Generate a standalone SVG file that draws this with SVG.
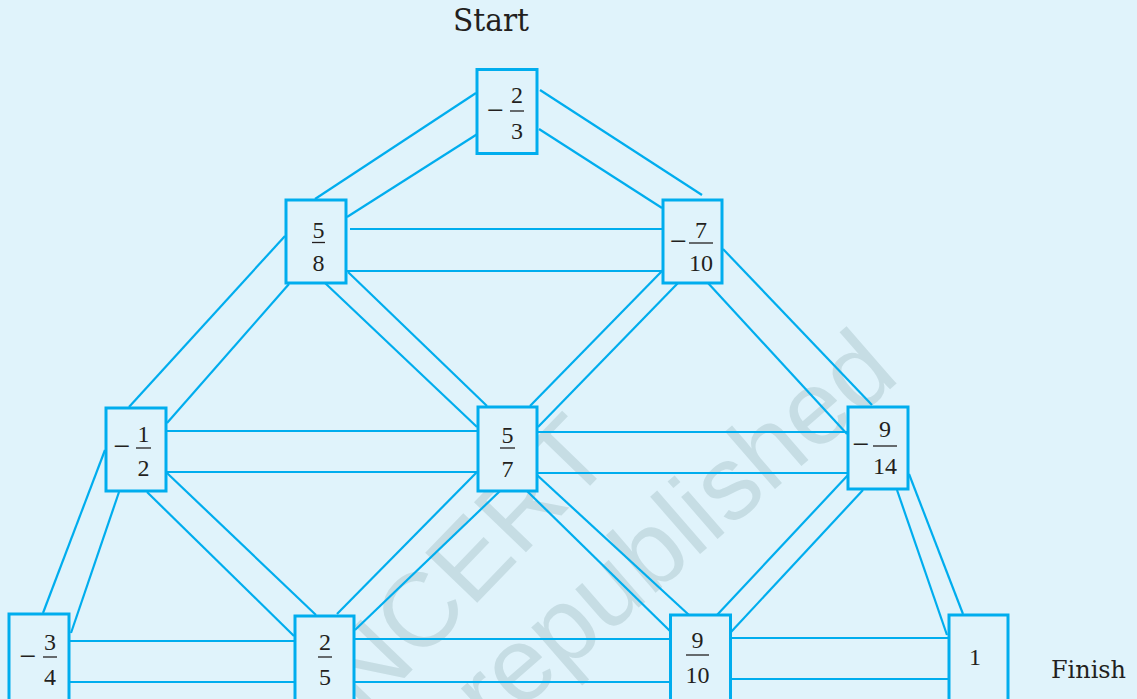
<svg xmlns="http://www.w3.org/2000/svg" width="1137" height="699" viewBox="0 0 1137 699">
<style>
.bg{fill:#e0f3fb}
.wm{font-family:"Liberation Sans",Arial,sans-serif;font-size:105px;fill:#c6dde4}
.c line{stroke:#00adee;stroke-width:2.2;stroke-linecap:butt}
.box{fill:#e0f3fb;stroke:#00adee;stroke-width:3}
.t{font-family:"Liberation Serif","Times New Roman",serif;font-size:24px;fill:#231f20;text-anchor:middle}
.m{font-family:"Liberation Serif","Times New Roman",serif;font-size:30px;fill:#231f20;text-anchor:middle}
.bar{stroke:#231f20;stroke-width:1.3}
.lbl{font-family:"DejaVu Serif",serif;fill:#231f20}
</style>
<rect class="bg" x="0" y="0" width="1137" height="699"/>
<g id="watermark">
<text class="wm" transform="translate(366,718) rotate(-46)">NCERT</text>
<text class="wm" transform="translate(492,735) rotate(-41)">republished</text>
</g>
<text class="lbl" x="453" y="31" font-size="31" textLength="76" lengthAdjust="spacingAndGlyphs">Start</text>
<text class="lbl" x="1051" y="678" font-size="24" textLength="75" lengthAdjust="spacingAndGlyphs">Finish</text>
<g id="connectors" class="c">
<line x1="476" y1="93" x2="315" y2="199"/>
<line x1="479" y1="133" x2="347" y2="217"/>
<line x1="540" y1="90" x2="702" y2="195"/>
<line x1="539" y1="129" x2="662" y2="208"/>
<line x1="350" y1="229" x2="665" y2="229"/>
<line x1="347" y1="271" x2="662" y2="271"/>
<line x1="285" y1="236" x2="129" y2="407"/>
<line x1="289" y1="284" x2="167" y2="423"/>
<line x1="325" y1="283" x2="477" y2="427"/>
<line x1="348" y1="272" x2="487" y2="406"/>
<line x1="663" y1="270" x2="530" y2="406"/>
<line x1="678" y1="283" x2="538" y2="427"/>
<line x1="723" y1="249" x2="872" y2="405"/>
<line x1="708" y1="283" x2="847" y2="434"/>
<line x1="167" y1="431" x2="477" y2="431"/>
<line x1="167" y1="472" x2="477" y2="472"/>
<line x1="538" y1="432" x2="848" y2="432"/>
<line x1="538" y1="473" x2="848" y2="473"/>
<line x1="105" y1="450" x2="43" y2="613"/>
<line x1="119" y1="492" x2="71" y2="633"/>
<line x1="167" y1="473" x2="316" y2="615"/>
<line x1="147" y1="492" x2="294" y2="636"/>
<line x1="477" y1="472" x2="337" y2="614"/>
<line x1="500" y1="491" x2="355" y2="630"/>
<line x1="537" y1="475" x2="689" y2="615"/>
<line x1="527" y1="491" x2="670" y2="631"/>
<line x1="848" y1="475" x2="717" y2="615"/>
<line x1="863" y1="490" x2="731" y2="632"/>
<line x1="909" y1="474" x2="963" y2="614"/>
<line x1="897" y1="490" x2="947" y2="635"/>
<line x1="70" y1="641" x2="294" y2="641"/>
<line x1="70" y1="682" x2="294" y2="682"/>
<line x1="355" y1="639" x2="670" y2="639"/>
<line x1="355" y1="682" x2="670" y2="682"/>
<line x1="731" y1="638" x2="948" y2="638"/>
<line x1="731" y1="679" x2="948" y2="679"/>
</g>
<g id="n1">
<rect class="box" x="477" y="69.5" width="60" height="84"/>
<text class="m" x="495.5" y="120">−</text>
<text class="t" x="517" y="103">2</text>
<line class="bar" x1="510" y1="111" x2="524" y2="111"/>
<text class="t" x="517" y="139">3</text>
</g>
<g id="n2">
<rect class="box" x="286" y="200" width="60" height="83"/>
<text class="t" x="318.5" y="238">5</text>
<line class="bar" x1="312" y1="242.5" x2="325" y2="242.5"/>
<text class="t" x="318.5" y="271">8</text>
</g>
<g id="n3">
<rect class="box" x="663" y="200" width="59" height="83"/>
<text class="m" x="678.5" y="251">−</text>
<text class="t" x="701" y="238">7</text>
<line class="bar" x1="689" y1="243" x2="713" y2="243"/>
<text class="t" x="701" y="271">10</text>
</g>
<g id="n4">
<rect class="box" x="106" y="408" width="60" height="83"/>
<text class="m" x="122" y="456">−</text>
<text class="t" x="143.5" y="442">1</text>
<line class="bar" x1="136" y1="448" x2="151" y2="448"/>
<text class="t" x="143.5" y="476">2</text>
</g>
<g id="n5">
<rect class="box" x="478" y="407" width="59" height="84"/>
<text class="t" x="507.5" y="443">5</text>
<line class="bar" x1="500" y1="448" x2="515" y2="448"/>
<text class="t" x="507.5" y="477">7</text>
</g>
<g id="n6">
<rect class="box" x="848" y="407" width="60" height="82"/>
<text class="m" x="861" y="454">−</text>
<text class="t" x="885" y="437">9</text>
<line class="bar" x1="873" y1="446" x2="897" y2="446"/>
<text class="t" x="885" y="474">14</text>
</g>
<g id="n7">
<rect class="box" x="9" y="614" width="60" height="100"/>
<text class="m" x="28" y="666">−</text>
<text class="t" x="50" y="650">3</text>
<line class="bar" x1="43" y1="657" x2="57" y2="657"/>
<text class="t" x="50" y="685">4</text>
</g>
<g id="n8">
<rect class="box" x="295" y="616" width="59" height="100"/>
<text class="t" x="325" y="650">2</text>
<line class="bar" x1="318" y1="657" x2="332" y2="657"/>
<text class="t" x="325" y="685">5</text>
</g>
<g id="n9">
<rect class="box" x="670.5" y="615" width="60" height="100"/>
<text class="t" x="697.5" y="648">9</text>
<line class="bar" x1="686" y1="655" x2="709" y2="655"/>
<text class="t" x="697.5" y="683">10</text>
</g>
<g id="n10">
<rect class="box" x="949" y="615" width="59" height="100"/>
<text class="t" x="975" y="665">1</text>
</g>
</svg>
